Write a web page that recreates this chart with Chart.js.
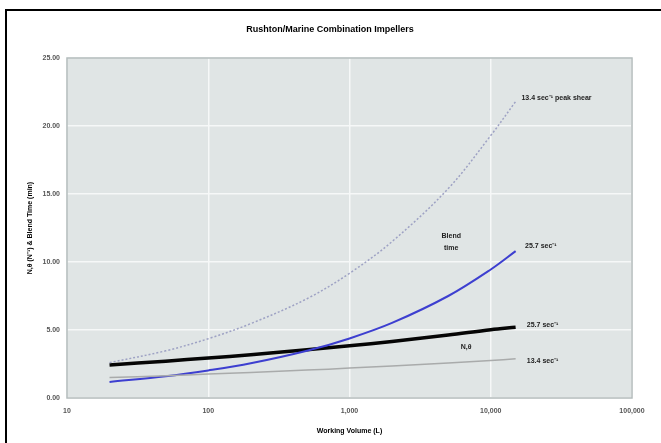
<!DOCTYPE html>
<html>
<head>
<meta charset="utf-8">
<script src="https://cdn.jsdelivr.net/npm/chart.js@4.4.1/dist/chart.umd.min.js"></script>
<style>
  html, body { margin: 0; padding: 0; background: #fff; }
  #wrap { width: 661px; height: 443px; position: relative; }
</style>
</head>
<body>
<div id="wrap"><canvas id="blendChart"></canvas></div>
<script>
// working volume (L) and the four curves
const volumes = [20, 50, 100, 200, 500, 1000, 2000, 5000, 10000, 15000];
const nTheta257 = [2.43, 2.71, 2.94, 3.18, 3.54, 3.84, 4.16, 4.63, 5.02, 5.20];
const blend257 = [1.18, 1.60, 2.03, 2.55, 3.47, 4.38, 5.52, 7.50, 9.45, 10.80];
const nTheta134 = [1.50, 1.64, 1.76, 1.88, 2.05, 2.20, 2.36, 2.57, 2.76, 2.88];
const blend134peak = [2.60, 3.47, 4.36, 5.47, 7.30, 9.17, 11.50, 15.40, 19.30, 21.80];

const xTicks = [10, 100, 1000, 10000, 100000];
const yTicks = [0, 5, 10, 15, 20, 25];

// text labels inside the plot, anchored in data units
const notes = [
    { text: '13.4 sec⁻¹ peak shear', x: 16500, y: 22.05, align: 'left' },
    { text: '25.7 sec⁻¹', x: 17500, y: 11.15, align: 'left' },
    { text: '25.7 sec⁻¹', x: 18000, y: 5.35, align: 'left' },
    { text: '13.4 sec⁻¹', x: 18000, y: 2.7, align: 'left' },
    { text: 'Blend', x: 5250, y: 11.9, align: 'center' },
    { text: 'time', x: 5250, y: 11.05, align: 'center' },
    { text: 'N,θ', x: 6700, y: 3.75, align: 'center' }
];

function toPoints(arr) {
    return volumes.map((v, i) => ({ x: v, y: arr[i] }));
}

// frame, plot background and title
const decor = {
    id: 'decor',
    beforeDraw(chart) {
        const ctx = chart.ctx;
        const a = chart.chartArea;
        ctx.save();
        ctx.fillStyle = '#fff';
        ctx.fillRect(0, 0, chart.width, chart.height);
        ctx.strokeStyle = '#000';
        ctx.lineWidth = 2;
        ctx.beginPath();
        ctx.moveTo(6, 443);
        ctx.lineTo(6, 10);
        ctx.lineTo(661, 10);
        ctx.stroke();
        ctx.fillStyle = '#e0e5e5';
        ctx.fillRect(a.left, a.top, a.right - a.left, a.bottom - a.top);
        ctx.fillStyle = '#000';
        ctx.font = 'bold 9px "Liberation Sans", Arial, sans-serif';
        ctx.textAlign = 'center';
        ctx.textBaseline = 'middle';
        ctx.fillText('Rushton/Marine Combination Impellers', 330, 30);
        ctx.restore();
    },
    afterDraw(chart) {
        const ctx = chart.ctx;
        const a = chart.chartArea;
        const xs = chart.scales.x, ys = chart.scales.y;
        ctx.save();
        ctx.strokeStyle = '#b4bcbc';
        ctx.lineWidth = 1.5;
        ctx.strokeRect(a.left, a.top, a.right - a.left, a.bottom - a.top);
        ctx.fillStyle = '#222';
        ctx.font = 'bold 7px "Liberation Sans", Arial, sans-serif';
        ctx.textBaseline = 'middle';
        notes.forEach(n => {
            ctx.textAlign = n.align;
            ctx.fillText(n.text, xs.getPixelForValue(n.x), ys.getPixelForValue(n.y));
        });
        ctx.restore();
    }
};

const tickFont = { family: '"Liberation Sans", Arial, sans-serif', size: 7, weight: 'bold' };

new Chart(document.getElementById('blendChart'), {
    type: 'line',
    data: {
        datasets: [{
            label: '13.4 sec-1 N,theta',
            data: toPoints(nTheta134),
            borderColor: '#a9abab',
            borderWidth: 1.5
        }, {
            label: '13.4 sec-1 peak shear',
            data: toPoints(blend134peak),
            borderColor: '#9ea2c4',
            borderWidth: 1.5,
            borderDash: [2, 2]
        }, {
            label: '25.7 sec-1 blend time',
            data: toPoints(blend257),
            borderColor: '#3d3fd0',
            borderWidth: 2
        }, {
            label: '25.7 sec-1 N,theta',
            data: toPoints(nTheta257),
            borderColor: '#050505',
            borderWidth: 3.5
        }]
    },
    options: {
        responsive: true,
        maintainAspectRatio: false,
        animation: false,
        layout: { padding: { top: 58, right: 29, left: 0, bottom: 0 } },
        elements: {
            point: { radius: 0 },
            line: { tension: 0.35, fill: false }
        },
        plugins: {
            legend: { display: false },
            tooltip: { enabled: false }
        },
        scales: {
            x: {
                type: 'logarithmic',
                min: 10,
                max: 100000,
                afterBuildTicks: s => { s.ticks = xTicks.map(v => ({ value: v })); },
                afterFit: s => { s.height = 45; },
                grid: { color: '#f6f8f8', lineWidth: 1.5, drawTicks: false },
                border: { display: false },
                ticks: {
                    color: '#555',
                    font: tickFont,
                    padding: 9,
                    maxRotation: 0,
                    autoSkip: false,
                    callback: v => Number(v).toLocaleString('en-US')
                },
                title: {
                    display: true,
                    text: 'Working Volume (L)',
                    color: '#000',
                    font: { family: '"Liberation Sans", Arial, sans-serif', size: 7, weight: 'bold' },
                    padding: { top: 0, bottom: 8 }
                }
            },
            y: {
                min: 0,
                max: 25,
                afterBuildTicks: s => { s.ticks = yTicks.map(v => ({ value: v })); },
                afterFit: s => { s.width = 67; },
                grid: { color: '#f6f8f8', lineWidth: 1.5, drawTicks: false },
                border: { display: false },
                ticks: {
                    color: '#555',
                    font: tickFont,
                    padding: 7,
                    callback: v => Number(v).toFixed(2)
                },
                title: {
                    display: true,
                    text: 'N,θ (N⁻¹) & Blend Time (min)',
                    color: '#000',
                    font: { family: '"Liberation Sans", Arial, sans-serif', size: 7, weight: 'bold' },
                    padding: { top: 26, bottom: 0 }
                }
            }
        }
    },
    plugins: [decor]
});
</script>
</body>
</html>
